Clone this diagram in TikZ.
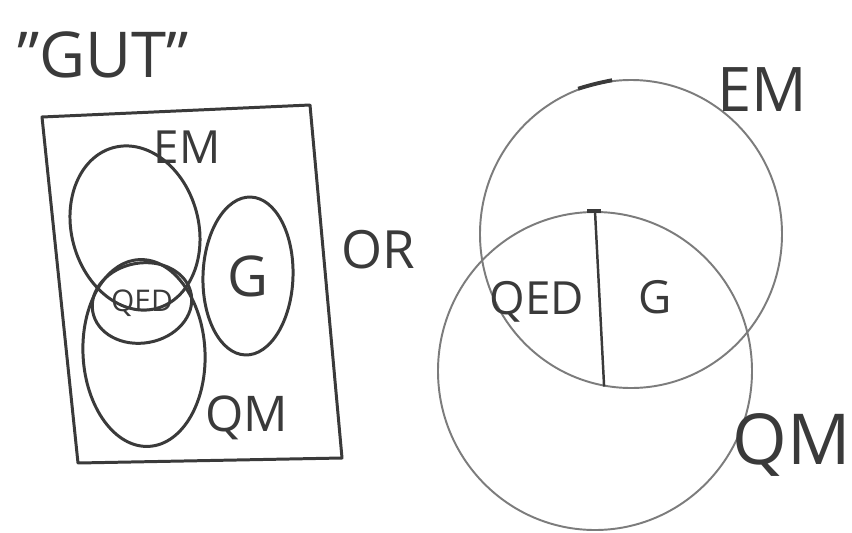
\documentclass[tikz,border=0pt]{standalone}
\usepackage{fontspec}
\setmainfont{Open Sans}
\usetikzlibrary{shapes.geometric}
\definecolor{pencil}{HTML}{3A3A3A}
\definecolor{pencillt}{HTML}{7C7C7C}
\newcommand{\fs}[1]{\fontsize{#1}{#1}\selectfont}
\tikzset{
  px/.style={x=0.2mm, y=-0.2mm},
  v set/.style={draw=pencil, ellipse, line width=1.7pt, inner sep=0pt, text=pencil},
  v ring/.style={draw=pencillt, ellipse, line width=1.1pt, inner sep=0pt},
  v lbl/.style={text=pencil, inner sep=0pt},
  v frame/.style={draw=pencil, line width=1.7pt, line join=round},
  v bar/.style={draw=pencil, line width=1.4pt},
}

\begin{document}
\begin{tikzpicture}[px]
\useasboundingbox[fill=white] (0,0) rectangle (852,533);
% left: nested sets
\node[v lbl, font=\fs{36}] (gut) at (103,55) {"GUT"};
\coordinate (f1) at (42,117); \coordinate (f2) at (310,105);
\coordinate (f3) at (342,458); \coordinate (f4) at (78,463);
\draw[v frame] (f1) -- (f2) -- (f3) -- (f4) -- cycle;
\node[v set, minimum width=25.4mm, minimum height=33.3mm, rotate=15] (emL) at (135,228) {};
\node[v set, minimum width=24.4mm, minimum height=37.4mm, rotate=3] (qmL) at (144,353) {};
\node[v set, minimum width=20mm, minimum height=16mm, rotate=10] (qedL) at (142,303) {};
\node[v lbl, font=\fs{17}] (qedLt) at (qedL) {QED};
\node[v set, minimum width=18mm, minimum height=31.6mm, rotate=-2] (gL) at (248,276) {};
\node[v lbl, font=\fs{32}] (gLt) at (gL) {G};
\node[v lbl, font=\fs{26}] (emLt) at (187,147) {EM};
\node[v lbl, font=\fs{28}] (qmLt) at (247,418) {QM};
\node[v lbl, font=\fs{30}] (or) at (378,250) {OR};
% right: overlapping sets
\node[v ring, minimum width=60.4mm, minimum height=61.6mm] (emR) at (631,234) {};
\node[v ring, minimum width=62.8mm, minimum height=63.6mm] (qmR) at (595,371) {};
\draw[v bar] (qmR.north) -- (emR.260);
\draw[v bar, line width=2.2pt] (emR.110) to[bend left=3] (emR.97);
\draw[v bar, line width=2pt] (qmR.north) ++(-8,0) -- ++(14,0);
\node[v lbl, font=\fs{26}] (qedR) at (537,302) {QED};
\node[v lbl, font=\fs{26}] (gR) at (655,297) {G};
\node[v lbl, font=\fs{35}] (emRt) at (762,90) {EM};
\node[v lbl, font=\fs{40}] (qmRt) at (792,445) {QM};
\end{tikzpicture}
\end{document}
